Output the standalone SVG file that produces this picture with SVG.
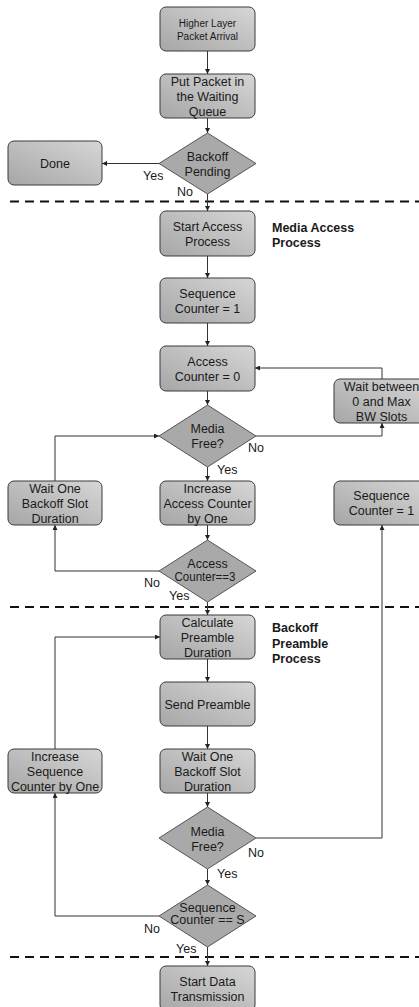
<svg xmlns="http://www.w3.org/2000/svg" width="419" height="1007" viewBox="0 0 419 1007">
<defs>
<linearGradient id="g" x1="0" y1="1" x2="1" y2="0">
<stop offset="0" stop-color="#a6a6a6"/>
<stop offset="1" stop-color="#d6d6d6"/>
</linearGradient>
<marker id="a" viewBox="0 0 6 6" refX="6" refY="3" markerWidth="5" markerHeight="5" markerUnits="userSpaceOnUse" orient="auto">
<path d="M0,0 L6,3 L0,6 z" fill="#222"/>
</marker>
</defs>
<style>
.b{fill:url(#g);stroke:#3a3a3a;stroke-width:1}
.d{fill:#a9a9a9;stroke:#555;stroke-width:1}
text{font-family:"Liberation Sans",Arial,sans-serif;font-size:12.5px;fill:#1a1a1a;text-anchor:middle}
.s{font-size:10px}
.l{text-anchor:start}
.h{font-weight:bold;text-anchor:start}
.c{fill:none;stroke:#333;stroke-width:1;marker-end:url(#a)}
.dash{stroke:#111;stroke-width:2;stroke-dasharray:9 6;fill:none}
</style>
<rect width="419" height="1007" fill="#fff"/>
<g id="separators">
<line class="dash" x1="10" y1="201.5" x2="419" y2="201.5"/>
<line class="dash" x1="10" y1="607" x2="419" y2="607"/>
<line class="dash" x1="10" y1="957" x2="419" y2="957"/>
</g>
<g id="connectors">
<path class="c" d="M207.5,51 V74"/>
<path class="c" d="M207.5,118 V133"/>
<path class="c" d="M159,163.5 H102"/>
<path class="c" d="M207.5,194 V211"/>
<path class="c" d="M207.5,256 V278"/>
<path class="c" d="M207.5,323 V346"/>
<path class="c" d="M207.5,391 V405"/>
<path class="c" d="M256,436 H382 V423"/>
<path class="c" d="M382,379 V368 H255"/>
<path class="c" d="M207.5,467 V481"/>
<path class="c" d="M207.5,525 V540"/>
<path class="c" d="M159,571 H55 V525"/>
<path class="c" d="M55,481 V436 H159"/>
<path class="c" d="M207.5,602 V615"/>
<path class="c" d="M207.5,659 V682"/>
<path class="c" d="M207.5,726 V749"/>
<path class="c" d="M207.5,793 V807"/>
<path class="c" d="M256,838 H382 V525"/>
<path class="c" d="M207.5,869 V885"/>
<path class="c" d="M159,916 H55 V793"/>
<path class="c" d="M55,749 V637 H160"/>
<path class="c" d="M207.5,947 V966"/>
</g>
<g id="labels">
<text class="l" x="143" y="180">Yes</text>
<text class="l" x="177" y="196">No</text>
<text class="l" x="248" y="452">No</text>
<text class="l" x="217" y="474">Yes</text>
<text class="l" x="144" y="587">No</text>
<text class="l" x="169" y="600">Yes</text>
<text class="l" x="248" y="857">No</text>
<text class="l" x="217" y="878">Yes</text>
<text class="l" x="144" y="933">No</text>
<text class="l" x="176" y="953">Yes</text>
<text class="h" x="272" y="232">Media Access</text>
<text class="h" x="272" y="247">Process</text>
<text class="h" x="272" y="632">Backoff</text>
<text class="h" x="272" y="647.5">Preamble</text>
<text class="h" x="272" y="663">Process</text>
</g>
<g id="n1"><rect class="b" x="160" y="7" width="95" height="44" rx="6"/>
<text class="s" x="207.5" y="26.5">Higher Layer</text><text class="s" x="207.5" y="39.5">Packet Arrival</text></g>
<g id="n2"><rect class="b" x="160" y="74" width="95" height="44" rx="6"/>
<text x="207.5" y="85.5">Put Packet in</text><text x="207.5" y="100.5">the Waiting</text><text x="207.5" y="115.5">Queue</text></g>
<g id="n3"><polygon class="d" points="207.5,133 256,163.5 207.5,194 159,163.5"/>
<text x="207.5" y="160.5">Backoff</text><text x="207.5" y="175.5">Pending</text></g>
<g id="n4"><rect class="b" x="8" y="141" width="94" height="44" rx="6"/>
<text x="55" y="167.5">Done</text></g>
<g id="n5"><rect class="b" x="160" y="211" width="95" height="45" rx="6"/>
<text x="207.5" y="230.5">Start Access</text><text x="207.5" y="245.5">Process</text></g>
<g id="n6"><rect class="b" x="160" y="278" width="95" height="45" rx="6"/>
<text x="207.5" y="297.5">Sequence</text><text x="207.5" y="312.5">Counter = 1</text></g>
<g id="n7"><rect class="b" x="160" y="346" width="95" height="45" rx="6"/>
<text x="207.5" y="365.5">Access</text><text x="207.5" y="380.5">Counter = 0</text></g>
<g id="n8"><polygon class="d" points="207.5,405 256,436 207.5,467 159,436"/>
<text x="207.5" y="433">Media</text><text x="207.5" y="448">Free?</text></g>
<g id="n9"><rect class="b" x="160" y="481" width="95" height="44" rx="6"/>
<text x="207.5" y="492.5">Increase</text><text x="207.5" y="507.5">Access Counter</text><text x="207.5" y="522.5">by One</text></g>
<g id="n10"><polygon class="d" points="207.5,540 256,571 207.5,602 159,571"/>
<text x="207.5" y="568">Access</text><text x="205" y="581" textLength="61" lengthAdjust="spacingAndGlyphs">Counter==3</text></g>
<g id="n11"><rect class="b" x="8" y="481" width="94" height="44" rx="6"/>
<text x="55" y="492.5">Wait One</text><text x="55" y="507.5">Backoff Slot</text><text x="55" y="522.5">Duration</text></g>
<g id="n12"><rect class="b" x="334" y="379" width="96" height="44" rx="6"/>
<text x="381.5" y="391">Wait between</text><text x="381.5" y="406">0 and Max</text><text x="381.5" y="421">BW Slots</text></g>
<g id="n13"><rect class="b" x="334" y="481" width="96" height="44" rx="6"/>
<text x="381.5" y="500">Sequence</text><text x="381.5" y="515">Counter = 1</text></g>
<g id="n14"><rect class="b" x="160" y="615" width="95" height="44" rx="6"/>
<text x="207.5" y="626.5">Calculate</text><text x="207.5" y="641.5">Preamble</text><text x="207.5" y="656.5">Duration</text></g>
<g id="n15"><rect class="b" x="160" y="682" width="95" height="44" rx="6"/>
<text x="207.5" y="708.5">Send Preamble</text></g>
<g id="n16"><rect class="b" x="160" y="749" width="95" height="44" rx="6"/>
<text x="207.5" y="760.5">Wait One</text><text x="207.5" y="775.5">Backoff Slot</text><text x="207.5" y="790.5">Duration</text></g>
<g id="n17"><polygon class="d" points="207.5,807 256,838 207.5,869 159,838"/>
<text x="207.5" y="836">Media</text><text x="207.5" y="851">Free?</text></g>
<g id="n18"><polygon class="d" points="207.5,885 256,916 207.5,947 159,916"/>
<text x="207.5" y="911.5">Sequence</text><text x="207.5" y="923.5">Counter == S</text></g>
<g id="n19"><rect class="b" x="8" y="749" width="94" height="44" rx="6"/>
<text x="55" y="760.5">Increase</text><text x="55" y="775.5">Sequence</text><text x="55" y="790.5">Counter by One</text></g>
<g id="n20"><rect class="b" x="160" y="966" width="95" height="45" rx="6"/>
<text x="207.5" y="985.5">Start Data</text><text x="207.5" y="1000.5">Transmission</text></g>
</svg>
